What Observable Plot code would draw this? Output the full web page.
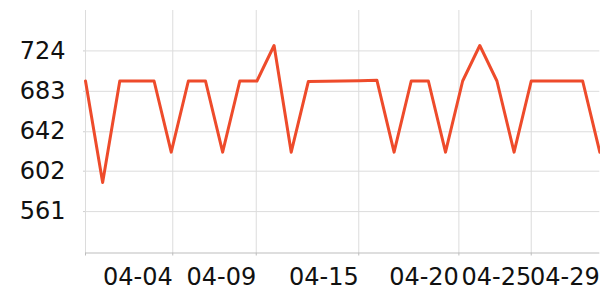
<!DOCTYPE html>
<html>
<head>
<meta charset="utf-8">
<script src="https://cdn.jsdelivr.net/npm/d3@7"></script>
<script src="https://cdn.jsdelivr.net/npm/@observablehq/plot@0.6"></script>
<style>
  html, body { margin: 0; padding: 0; background: #fff; }
  #chart svg { display: block; }
</style>
</head>
<body>
<div id="chart"></div>
<script>
// Series values, one per observation (index 0..30)
const values = [
  693.5, 590.6, 693.5, 693.5, 693.5, 621.3, 693.5, 693.5, 621.3, 693.5,
  693.5, 729.5, 621.3, 693.1, 693.3, 693.5, 693.8, 694.2, 621.3, 693.5,
  693.5, 621.3, 693.5, 729.5, 693.5, 621.3, 693.5, 693.5, 693.5, 693.5,
  621.3
];
// X tick labels and their positions on the observation index
const xTickLabels = ["04-04", "04-09", "04-15", "04-20", "04-25", "04-29"];
const xTickIndex  = [5.09, 9.96, 15.94, 21.78, 26.0, 30];
const xGridIndex  = [0, 5.09, 9.96, 15.94, 21.78, 26.0];
// Y tick labels
const yTicks = [561, 602, 642, 683, 724];

const data = values.map((v, i) => ({i, v}));
const labelOf = new Map(xTickIndex.map((p, k) => [p, xTickLabels[k]]));

const chart = Plot.plot({
  width: 600,
  height: 300,
  marginLeft: 85,
  marginRight: 0.7,
  marginTop: 10,
  marginBottom: 47.5,
  style: {fontFamily: "DejaVu Sans", fontSize: "24px", color: "#111", background: "#fff", overflow: "visible"},
  x: {type: "linear", domain: [0, 30], label: null},
  y: {domain: [519, 765], label: null},
  marks: [
    Plot.gridY(yTicks, {stroke: "#dcdcdc", strokeOpacity: 1, strokeWidth: 1}),
    Plot.gridX(xGridIndex, {stroke: "#dcdcdc", strokeOpacity: 1, strokeWidth: 1}),
    Plot.ruleY([519], {stroke: "#bdbdbd", strokeWidth: 1}),
    Plot.axisY({ticks: yTicks, label: null, tickSize: 2, tickPadding: 18, stroke: "#cfcfcf", tickFormat: d => String(d), fill: "#111"}),
    Plot.axisX({ticks: [0], label: null, tickSize: 3, tickFormat: () => "", stroke: "#bdbdbd"}),
    Plot.axisX({ticks: xGridIndex.slice(1), label: null, tickSize: 3, tickPadding: 11.5, stroke: "#bdbdbd", textAnchor: "end", tickFormat: d => labelOf.get(d), fill: "#111"}),
    Plot.axisX({ticks: [30], label: null, tickSize: 0, tickPadding: 14.5, textAnchor: "end", tickFormat: d => labelOf.get(d), fill: "#111"}),
    Plot.line(data, {x: "i", y: "v", stroke: "#ee4b2b", strokeWidth: 3, strokeLinejoin: "round"})
  ]
});
document.getElementById("chart").appendChild(chart);
</script>
</body>
</html>
